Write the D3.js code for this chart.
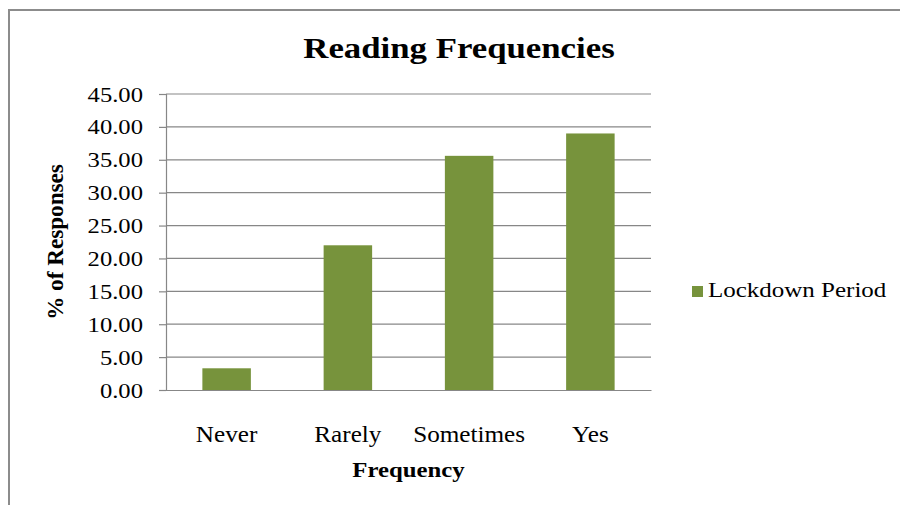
<!DOCTYPE html>
<html>
<head>
<meta charset="utf-8">
<script src="https://cdn.jsdelivr.net/npm/d3@7/dist/d3.min.js"></script>
<style>
  html, body { margin: 0; padding: 0; background: #fff; }
  svg { display: block; }
  text { font-family: "Liberation Serif", "Times New Roman", serif; fill: #000; }
</style>
</head>
<body>
<svg id="chart" width="900" height="505"></svg>
<script>
const categories = ["Never", "Rarely", "Sometimes", "Yes"];
const seriesName = "Lockdown Period";
const values = [3.3, 22.0, 35.6, 39.0];
const yTicks = [0, 5, 10, 15, 20, 25, 30, 35, 40, 45];
const chartTitle = "Reading Frequencies";
const xTitle = "Frequency";
const yTitle = "% of Responses";

const svg = d3.select("#chart");
const W = 900, H = 505;
const plot = { left: 166, right: 651, top: 94, bottom: 390 };
const barColor = "#77933C";
const gridColor = "#878787";

// outer chart frame
svg.append("rect")
  .attr("x", 9).attr("y", 10)
  .attr("width", W + 20).attr("height", H + 20)
  .attr("fill", "#fff")
  .attr("stroke", "#8c8c8c").attr("stroke-width", 2);

const x = d3.scaleBand()
  .domain(categories)
  .range([plot.left, plot.right])
  .paddingInner(0.6)
  .paddingOuter(0.3);

const y = d3.scaleLinear()
  .domain([0, 45])
  .range([plot.bottom, plot.top]);

// stretched text helper
function stretchText(g, tx, ty, sx, anchor, str, size, weight, rotate) {
  const t = g.append("text")
    .attr("transform", `translate(${tx},${ty})` + (rotate ? ` rotate(${rotate})` : "") + ` scale(${sx},1)`)
    .attr("text-anchor", anchor)
    .attr("font-size", size)
    .attr("font-weight", weight || "normal")
    .text(str);
  return t;
}

// gridlines
svg.append("g")
  .selectAll("line")
  .data(yTicks.filter(d => d > 0))
  .join("line")
  .attr("x1", plot.left).attr("x2", plot.right)
  .attr("y1", d => y(d)).attr("y2", d => y(d))
  .attr("stroke", gridColor).attr("stroke-width", 1.2);

// y axis
const yAxisG = svg.append("g")
  .attr("transform", `translate(${plot.left},0)`)
  .call(d3.axisLeft(y).tickValues(yTicks).tickSize(7).tickFormat(() => ""));
yAxisG.select(".domain").attr("stroke", gridColor).attr("stroke-width", 1.2);
yAxisG.selectAll(".tick line").attr("stroke", gridColor).attr("stroke-width", 1.2);

// y tick labels
const yLab = svg.append("g");
yTicks.forEach(v => {
  stretchText(yLab, 143, y(v) + 7.5, 1.12, "end", d3.format(".2f")(v), 22);
});

// bars
svg.append("g")
  .selectAll("rect")
  .data(values)
  .join("rect")
  .attr("x", (d, i) => x(categories[i]))
  .attr("width", x.bandwidth())
  .attr("y", d => y(d))
  .attr("height", d => y(0) - y(d))
  .attr("fill", barColor);

// x axis
const xAxisG = svg.append("g")
  .attr("transform", `translate(0,${plot.bottom})`)
  .call(d3.axisBottom(x).tickSize(0).tickFormat(() => ""));
xAxisG.select(".domain").attr("stroke", gridColor).attr("stroke-width", 1.2);

// category labels
const xLab = svg.append("g");
categories.forEach(c => {
  stretchText(xLab, x(c) + x.bandwidth() / 2, 442, 1.12, "middle", c, 22.5);
});

// title
stretchText(svg, 459, 58, 1.16, "middle", chartTitle, 30, "bold");

// axis titles
stretchText(svg, (plot.left + plot.right) / 2, 477, 1.18, "middle", xTitle, 21, "bold");
stretchText(svg, 63, (plot.top + plot.bottom) / 2, 1.03, "middle", yTitle, 22.5, "bold", -90);

// legend
const leg = svg.append("g");
leg.append("rect")
  .attr("x", 692).attr("y", 286)
  .attr("width", 11).attr("height", 11)
  .attr("fill", barColor);
stretchText(leg, 708, 297, 1.19, "start", seriesName, 21);
</script>
</body>
</html>
